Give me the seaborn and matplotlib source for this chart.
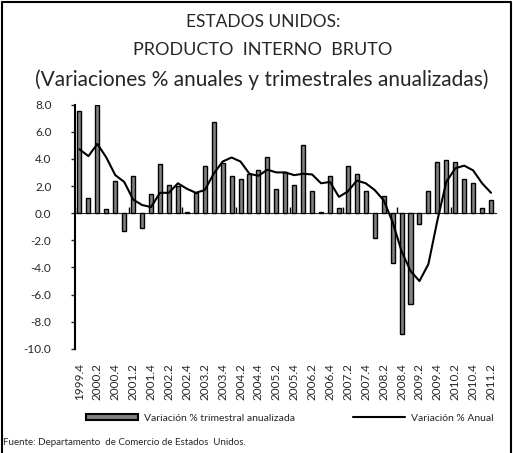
import numpy as np
import pandas as pd
import matplotlib
matplotlib.use("Agg")
import matplotlib.pyplot as plt
from matplotlib.patches import Patch
from matplotlib.lines import Line2D
import seaborn as sns

quarters = ["1999.4",
            "2000.1", "2000.2", "2000.3", "2000.4",
            "2001.1", "2001.2", "2001.3", "2001.4",
            "2002.1", "2002.2", "2002.3", "2002.4",
            "2003.1", "2003.2", "2003.3", "2003.4",
            "2004.1", "2004.2", "2004.3", "2004.4",
            "2005.1", "2005.2", "2005.3", "2005.4",
            "2006.1", "2006.2", "2006.3", "2006.4",
            "2007.1", "2007.2", "2007.3", "2007.4",
            "2008.1", "2008.2", "2008.3", "2008.4",
            "2009.1", "2009.2", "2009.3", "2009.4",
            "2010.1", "2010.2", "2010.3", "2010.4",
            "2011.1", "2011.2"]

# variacion % trimestral anualizada (barras)
trimestral = [7.5, 1.1, 8.0, 0.3, 2.4, -1.3, 2.7, -1.1, 1.4, 3.6,
              2.1, 2.0, 0.1, 1.5, 3.5, 6.7, 3.7, 2.7, 2.5, 2.9,
              3.2, 4.1, 1.8, 3.0, 2.1, 5.0, 1.6, 0.1, 2.7, 0.4,
              3.5, 2.9, 1.6, -1.8, 1.3, -3.7, -8.9, -6.7, -0.8, 1.6,
              3.8, 3.9, 3.8, 2.5, 2.2, 0.4, 1.0]

# variacion % anual (linea)
anual = [4.7, 4.2, 5.1, 4.1, 2.8, 2.3, 1.0, 0.6, 0.45, 1.5,
         1.5, 2.2, 1.8, 1.5, 1.7, 2.9, 3.8, 4.1, 3.8, 2.9,
         2.75, 3.2, 3.0, 3.0, 2.8, 2.9, 2.85, 2.2, 2.3, 1.2,
         1.6, 2.4, 2.2, 1.7, 0.95, -0.65, -2.8, -4.25, -5.0, -3.75,
         -0.55, 2.3, 3.3, 3.5, 3.15, 2.2, 1.5]

yticks = [-10, -8, -6, -4, -2, 0, 2, 4, 6, 8]

df = pd.DataFrame({"trim": quarters, "tri": trimestral, "anual": anual})
df["pos"] = np.arange(len(df))

sns.set_style("white")
plt.rcParams["font.family"] = ["Lato", "DejaVu Sans"]

fig = plt.figure(figsize=(5.13, 4.53), dpi=100)
ax = fig.add_axes([0.1462, 0.2296, 0.8197, 0.5397])

sns.barplot(data=df, x="trim", y="tri", color="#808080", edgecolor="black",
            linewidth=1, width=0.45, saturation=1, ax=ax)
sns.lineplot(data=df, x="pos", y="anual", color="black", linewidth=1.5, ax=ax)

ax.set_xlim(-0.5, len(df) - 0.5)
ax.set_ylim(-10, 8)
ax.set_yticks(yticks)
ax.set_yticklabels([f"{v:.1f}" for v in yticks], fontsize=8.5)
ax.set_xticks(df["pos"][::2])
ax.set_xticklabels(df["trim"][::2], rotation=90, fontsize=8.5)
ax.tick_params(axis="x", length=0, pad=10)
ax.tick_params(axis="y", length=3, width=1, direction="out", pad=14, left=True)
ax.set_xlabel("")
ax.set_ylabel("")
for s in ["top", "right", "bottom"]:
    ax.spines[s].set_visible(False)
ax.spines["left"].set_color("black")
ax.spines["left"].set_linewidth(1.5)

# eje en cero con marcas cada 6 trimestres
zero = ax.secondary_xaxis(10 / 18)
zero.set_xticks(np.arange(-0.5, len(df), 6))
zero.set_xticklabels([])
zero.tick_params(length=4, width=1, direction="out", color="black")
zero.spines["bottom"].set_linewidth(2)
zero.spines["bottom"].set_color("black")

fig.text(0.514, 0.951, "ESTADOS UNIDOS:", ha="center", va="center", fontsize=12.5)
fig.text(0.513, 0.889, "PRODUCTO  INTERNO  BRUTO", ha="center", va="center", fontsize=13)
fig.text(0.511, 0.823, "(Variaciones % anuales y trimestrales anualizadas)",
         ha="center", va="center", fontsize=15)

handles = [Patch(facecolor="#808080", edgecolor="black", linewidth=1.5),
           Line2D([], [], color="black", linewidth=1.5)]
fig.legend(handles, ["Variación % trimestral anualizada", "Variación % Anual"],
           loc="center", bbox_to_anchor=(0.565, 0.077), ncol=2, frameon=False,
           fontsize=7.5, handlelength=5, handleheight=0.6, columnspacing=5.5,
           handletextpad=0.6)

fig.text(0.006, 0.024, "Fuente: Departamento  de Comercio de Estados  Unidos.",
         ha="left", va="center", fontsize=7)

fig.add_artist(Line2D([0.004, 0.004, 0.996, 0.996], [0.0, 0.996, 0.996, 0.0],
                      transform=fig.transFigure, color="black", linewidth=1.5))

fig.savefig("out.png", dpi=100)
